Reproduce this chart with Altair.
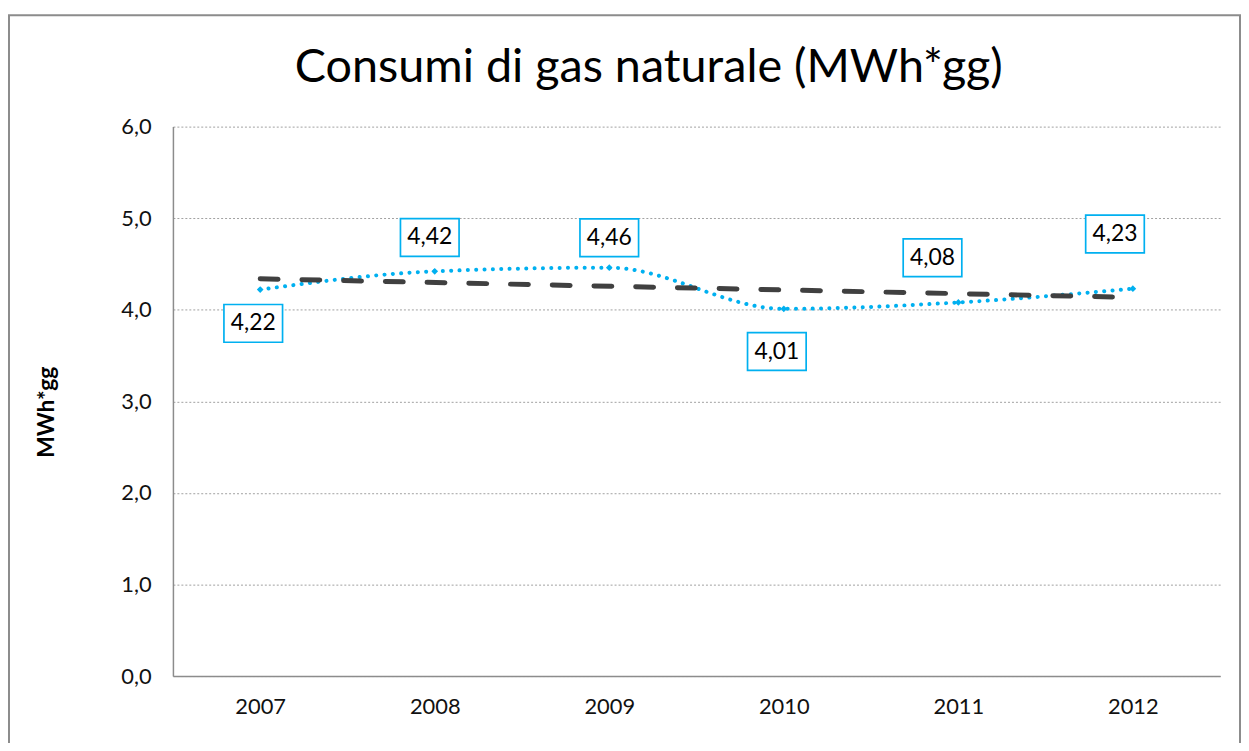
import altair as alt
import pandas as pd

# ---- data ----
YEARS = [2007, 2008, 2009, 2010, 2011, 2012]
VALUES = [4.22, 4.42, 4.46, 4.01, 4.08, 4.23]
TITLE = "Consumi di gas naturale (MWh*gg)"
Y_TITLE = "MWh*gg"
Y_TICKS = [0, 1, 2, 3, 4, 5, 6]

# ---- style ----
LABEL_DX = [-7, -5, 0, -7, -26, -18]
LABEL_DY = [34, -34, -30, 43, -45, -55]
W, H = 1054, 553
FONT = "Lato"
BLUE = "#00B0F0"
GRAY = "#8C8C8C"
BOX = "M-1,-0.644L1,-0.644L1,0.644L-1,0.644Z"

df = pd.DataFrame({"year": YEARS, "value": VALUES})

x_enc = alt.X(
    "year:O",
    scale=alt.Scale(type="point", padding=0.5),
    axis=alt.Axis(
        title=None, labelAngle=0, labelPadding=21, labelFontSize=22,
        labelFont=FONT, labelColor="#111111", ticks=False,
        domainColor=GRAY, domainWidth=1.5, grid=False,
    ),
)
y_enc = alt.Y(
    "value:Q",
    scale=alt.Scale(domain=[0, 6], nice=False),
    axis=alt.Axis(
        values=Y_TICKS,
        labelExpr="replace(format(datum.value, '.1f'), '.', ',')",
        labelPadding=22, labelFontSize=22, labelFont=FONT, labelColor="#111111",
        ticks=False, domainColor=GRAY, domainWidth=1.5,
        grid=True, gridColor="#A0A0A0", gridDash=[2, 2], gridWidth=1,
        title=Y_TITLE, titleFont=FONT, titleFontSize=23, titleFontWeight="bold",
        titleColor="#000000", titleAngle=270, titleX=-127, titleY=287,
        titleAlign="center", titleBaseline="middle",
    ),
)

base = alt.Chart(df)

line = base.mark_line(
    color=BLUE, strokeWidth=4, strokeDash=[0.1, 8.3], strokeCap="round",
    interpolate="monotone",
).encode(x=x_enc, y=y_enc)

pts = base.mark_point(
    shape="diamond", filled=True, color=BLUE, size=45, opacity=1
).encode(x=x_enc, y=y_enc)

trend = base.transform_regression("year", "value").mark_line(
    color="#404040", strokeWidth=5, strokeDash=[18, 24], strokeCap="round"
).encode(x=x_enc, y=y_enc)

layers = [line, pts, trend]
for yr, dx, dy in zip(YEARS, LABEL_DX, LABEL_DY):
    sub = base.transform_filter(alt.datum.year == yr)
    layers.append(
        sub.mark_point(
            shape=BOX, size=3481, filled=True, fill="white", stroke=BLUE,
            strokeWidth=1.7, opacity=1, xOffset=dx, yOffset=dy,
        ).encode(x=x_enc, y=y_enc)
    )
    layers.append(
        sub.transform_calculate(
            label="replace(format(datum.value, '.2f'), '.', ',')"
        ).mark_text(
            font=FONT, fontSize=23, color="#000000", dx=dx, dy=dy,
            align="center", baseline="middle",
        ).encode(x=x_enc, y=y_enc, text="label:N")
    )

title = alt.Chart(pd.DataFrame({"t": [TITLE]})).mark_text(
    font=FONT, fontSize=47, color="#000000", align="center", baseline="alphabetic"
).encode(text="t:N", x=alt.value(479), y=alt.value(-45))

border = alt.Chart(pd.DataFrame({"a": [0]})).mark_rect(
    fillOpacity=0, stroke=GRAY, strokeWidth=2
).encode(x=alt.value(-165), x2=alt.value(1074), y=alt.value(-112), y2=alt.value(650))

chart = alt.layer(border, title, *layers).properties(
    width=W, height=H,
    autosize=alt.AutoSizeParams(type="none"),
    padding={"left": 166, "top": 117, "right": 21, "bottom": 65},
    background="white",
).configure_view(strokeWidth=0)

chart.save("out.html", embed_options={"renderer": "svg", "actions": False})
